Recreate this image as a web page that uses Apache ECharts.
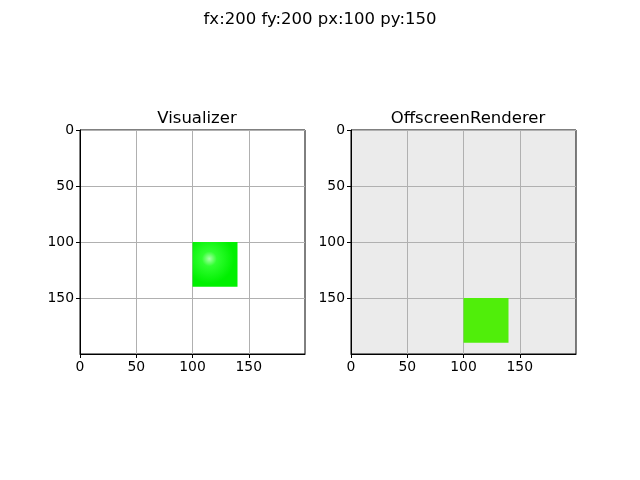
<!DOCTYPE html>
<html><head><meta charset="utf-8">
<script src="https://cdn.jsdelivr.net/npm/echarts@6/dist/echarts.min.js"></script>
<style>html,body{margin:0;background:#fff}#c{width:640px;height:480px}</style>
</head><body><div id="c"></div>
<script>
const suptitle = 'fx:200 fy:200 px:100 py:150';
const titles = ['Visualizer', 'OffscreenRenderer'];
const tickValues = [0, 50, 100, 150];
// rectangles: [x0, y0, x1, y1]
const leftRects = [[100, 100, 140, 140]];
const rightRects = [[100, 150, 140, 190]];
const highlight = [115, 115];

const chart = echarts.init(document.getElementById('c'));
const font = 'DejaVu Sans';
function axes(idx, inv) {
  return {
    gridIndex: idx, type: 'value', min: 0, max: 200, interval: 50, inverse: inv,
    axisLine: {show: true, onZero: false, lineStyle: {color: '#000', width: 1}},
    axisTick: {show: true, length: 4, customValues: tickValues, lineStyle: {color: '#000'}},
    axisLabel: {color: '#000', fontFamily: font, fontSize: 13.9, margin: 6, customValues: tickValues,
      formatter: v => tickValues.includes(v) ? String(v) : ''},
    splitLine: {show: true, lineStyle: {color: '#b0b0b0', width: 1}}
  };
}
function rectSeries(idx, data, fill, z) {
  return {
    type: 'custom', xAxisIndex: idx, yAxisIndex: idx, z: z,
    data: data,
    renderItem: function (params, api) {
      const p0 = api.coord([api.value(0), api.value(1)]);
      const p1 = api.coord([api.value(2), api.value(3)]);
      let f = fill;
      if (fill === 'radial') {
        const h = api.coord(highlight);
        const w = p1[0] - p0[0], hh = p1[1] - p0[1];
        f = new echarts.graphic.RadialGradient((h[0] - p0[0]) / w, (h[1] - p0[1]) / hh, 0.55, [
          {offset: 0, color: '#a8ffa8'}, {offset: 0.3, color: '#30ff30'}, {offset: 1, color: '#00f000'}]);
      }
      return {type: 'rect', shape: {x: p0[0], y: p0[1], width: p1[0] - p0[0], height: p1[1] - p0[1]},
        style: {fill: f}};
    }
  };
}
const tstyle = {fontFamily: font, fontSize: 16.5, fontWeight: 'normal', color: '#000'};
chart.setOption({
  animation: false,
  title: [
    {text: suptitle, left: 'center', top: 6, textStyle: tstyle},
    {text: titles[0], left: 192, textAlign: 'center', top: 105, textStyle: tstyle},
    {text: titles[1], left: 463, textAlign: 'center', top: 105, textStyle: tstyle}
  ],
  grid: [
    {left: 80, top: 130, width: 225, height: 224, show: true, borderColor: '#000', borderWidth: 1, backgroundColor: '#fff'},
    {left: 351, top: 130, width: 225, height: 224, show: true, borderColor: '#000', borderWidth: 1, backgroundColor: '#ebebeb'}
  ],
  xAxis: [Object.assign(axes(0, false), {position: 'bottom'}), Object.assign(axes(1, false), {position: 'bottom'})],
  yAxis: [axes(0, true), axes(1, true)],
  series: [
    rectSeries(0, leftRects, 'radial', 1),
    rectSeries(1, rightRects, '#50ee0a', 1)
  ]
});
</script></body></html>
